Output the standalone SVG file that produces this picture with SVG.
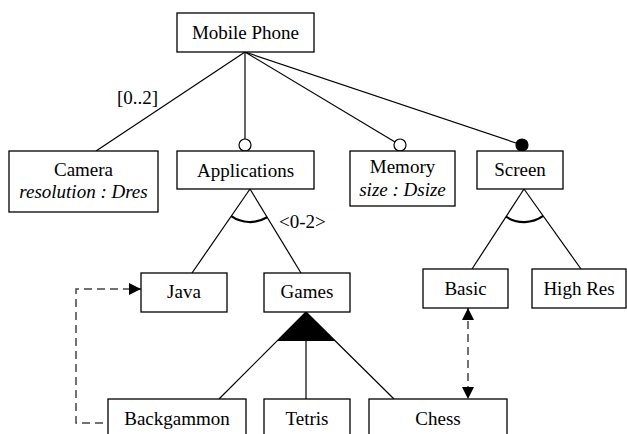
<svg xmlns="http://www.w3.org/2000/svg" width="627" height="434" viewBox="0 0 627 434" font-family="Liberation Serif, Tinos, DejaVu Serif, serif">
  <style>
    .box { fill: #fff; stroke: #000; stroke-width: 1.3; }
    .label { font-family: "Liberation Serif", Tinos, "DejaVu Serif", serif; font-size: 19px; fill: #000; text-anchor: middle; }
    .attr { font-style: italic; }
    .note { font-family: "Liberation Serif", Tinos, "DejaVu Serif", serif; font-size: 19px; fill: #000; }
    .edge { fill: none; stroke: #000; stroke-width: 1.2; }
    .arc { fill: none; stroke: #000; stroke-width: 2.2; }
    .dep { fill: none; stroke: #444; stroke-width: 1.5; stroke-dasharray: 8 5; }
    .opt { fill: #fff; stroke: #000; stroke-width: 1.2; }
    .mand { fill: #000; stroke: #000; stroke-width: 1.2; }
  </style>
  <defs>
    <marker id="arrow" viewBox="0 0 12 12" refX="12" refY="6" markerWidth="12" markerHeight="12" markerUnits="userSpaceOnUse" orient="auto-start-reverse">
      <path d="M0,0 L12,6 L0,12 Z" fill="#000"/>
    </marker>
  </defs>

  <rect width="627" height="434" fill="#fff"/>

  <!-- connectors -->
  <g id="connectors">
    <line class="edge" x1="245" y1="52" x2="96" y2="151"/>
    <line class="edge" x1="245" y1="52" x2="245" y2="145"/>
    <line class="edge" x1="245" y1="52" x2="400" y2="145"/>
    <line class="edge" x1="245" y1="52" x2="522" y2="145"/>
    <circle class="opt" cx="245" cy="145" r="6"/>
    <circle class="opt" cx="400" cy="145" r="6"/>
    <circle class="mand" cx="522" cy="145" r="6"/>
    <text class="note" x="117" y="104">[0..2]</text>

    <!-- Applications group (cardinality <0-2>) -->
    <line class="edge" x1="250" y1="189" x2="192" y2="273"/>
    <line class="edge" x1="250" y1="189" x2="301" y2="273"/>
    <path class="arc" d="M231.2,216.2 A33,33 0 0 0 267.1,217.2"/>
    <text class="note" x="279" y="228">&lt;0-2&gt;</text>

    <!-- Screen alternative group -->
    <line class="edge" x1="524" y1="189" x2="472" y2="269"/>
    <line class="edge" x1="524" y1="189" x2="581" y2="269"/>
    <path class="arc" d="M506,216.7 A33,33 0 0 0 543.2,215.9"/>

    <!-- Games or-group -->
    <polygon points="306,312 277,341 335,341" fill="#000"/>
    <line class="edge" x1="306" y1="312" x2="219" y2="399"/>
    <line class="edge" x1="306" y1="312" x2="306" y2="399"/>
    <line class="edge" x1="306" y1="312" x2="394" y2="399"/>

    <!-- cross-tree constraints -->
    <path class="dep" d="M103,423 H76 V289 H141" marker-end="url(#arrow)"/>
    <line class="dep" x1="468" y1="308" x2="468" y2="399" marker-start="url(#arrow)" marker-end="url(#arrow)"/>
  </g>

  <!-- features -->
  <g id="mobile-phone">
    <rect class="box" x="177" y="13" width="137" height="39"/>
    <text class="label" x="245.5" y="39">Mobile Phone</text>
  </g>
  <g id="camera">
    <rect class="box" x="9" y="151" width="149" height="61"/>
    <text class="label" x="83.5" y="176">Camera</text>
    <text class="label attr" x="83.5" y="198">resolution : Dres</text>
  </g>
  <g id="applications">
    <rect class="box" x="177" y="151" width="137" height="38"/>
    <text class="label" x="245.5" y="177">Applications</text>
  </g>
  <g id="memory">
    <rect class="box" x="350" y="151" width="105" height="55"/>
    <text class="label" x="402.5" y="173">Memory</text>
    <text class="label attr" x="402.5" y="196">size : Dsize</text>
  </g>
  <g id="screen">
    <rect class="box" x="477" y="151" width="86" height="38"/>
    <text class="label" x="520" y="176">Screen</text>
  </g>
  <g id="java">
    <rect class="box" x="141" y="273" width="86" height="39"/>
    <text class="label" x="184" y="298">Java</text>
  </g>
  <g id="games">
    <rect class="box" x="264" y="273" width="86" height="39"/>
    <text class="label" x="307" y="298">Games</text>
  </g>
  <g id="basic">
    <rect class="box" x="423" y="269" width="85" height="39"/>
    <text class="label" x="465.5" y="295">Basic</text>
  </g>
  <g id="high-res">
    <rect class="box" x="532" y="269" width="94" height="39"/>
    <text class="label" x="579" y="295">High Res</text>
  </g>
  <g id="backgammon">
    <rect class="box" x="108" y="399" width="138" height="45"/>
    <text class="label" x="177" y="425">Backgammon</text>
  </g>
  <g id="tetris">
    <rect class="box" x="264" y="399" width="86" height="45"/>
    <text class="label" x="307" y="425">Tetris</text>
  </g>
  <g id="chess">
    <rect class="box" x="369" y="399" width="138" height="45"/>
    <text class="label" x="438" y="425">Chess</text>
  </g>
</svg>
